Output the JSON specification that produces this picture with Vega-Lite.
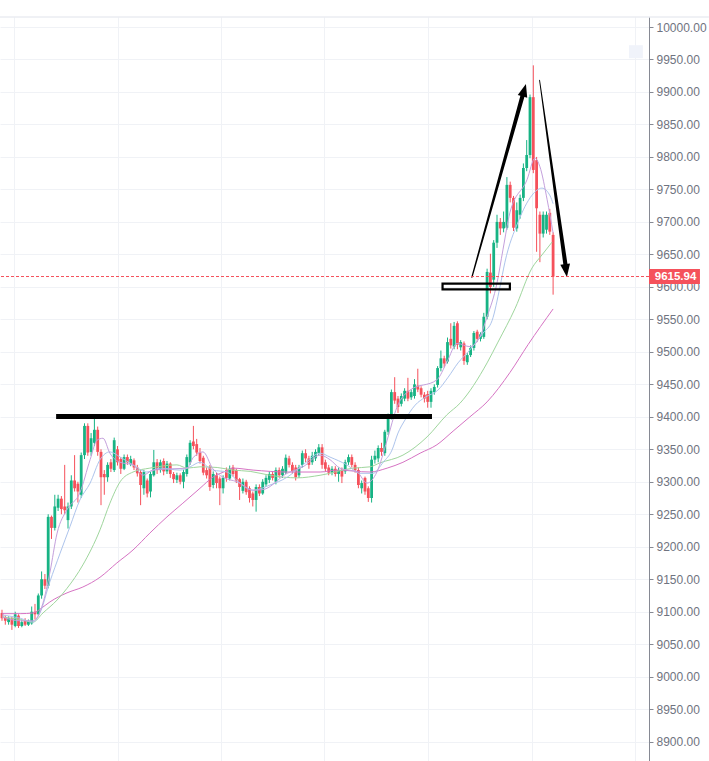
{
  "$schema": "https://vega.github.io/schema/vega-lite/v6.json",
  "width": 649,
  "height": 744,
  "autosize": {"type": "none"},
  "padding": {"top": 17, "left": 0, "right": 60, "bottom": 0},
  "background": "white",
  "config": {"view": {"stroke": null}, "axis": {"labelOverlap": false}},
  "datasets": {
    "candles": [
      {"i":0,"o":9098,"h":9103,"l":9086,"c":9090},
      {"i":1,"o":9092,"h":9095,"l":9080,"c":9086},
      {"i":2,"o":9084,"h":9093,"l":9080,"c":9090},
      {"i":3,"o":9090,"h":9092,"l":9072,"c":9080},
      {"i":4,"o":9078,"h":9100,"l":9076,"c":9096},
      {"i":5,"o":9094,"h":9096,"l":9075,"c":9078},
      {"i":6,"o":9078,"h":9088,"l":9076,"c":9084},
      {"i":7,"o":9086,"h":9090,"l":9078,"c":9080},
      {"i":8,"o":9080,"h":9088,"l":9078,"c":9086},
      {"i":9,"o":9082,"h":9108,"l":9080,"c":9100},
      {"i":10,"o":9100,"h":9112,"l":9088,"c":9096},
      {"i":11,"o":9096,"h":9128,"l":9094,"c":9125},
      {"i":12,"o":9125,"h":9162,"l":9120,"c":9150},
      {"i":13,"o":9150,"h":9158,"l":9135,"c":9140},
      {"i":14,"o":9140,"h":9250,"l":9136,"c":9246},
      {"i":15,"o":9246,"h":9248,"l":9212,"c":9229},
      {"i":16,"o":9229,"h":9280,"l":9225,"c":9262},
      {"i":17,"o":9260,"h":9280,"l":9255,"c":9274},
      {"i":18,"o":9274,"h":9278,"l":9250,"c":9258},
      {"i":19,"o":9262,"h":9326,"l":9250,"c":9256},
      {"i":20,"o":9241,"h":9268,"l":9228,"c":9262},
      {"i":21,"o":9262,"h":9310,"l":9258,"c":9302},
      {"i":22,"o":9302,"h":9341,"l":9285,"c":9290},
      {"i":23,"o":9297,"h":9300,"l":9268,"c":9285},
      {"i":24,"o":9280,"h":9345,"l":9275,"c":9341},
      {"i":25,"o":9341,"h":9390,"l":9335,"c":9386},
      {"i":26,"o":9386,"h":9390,"l":9340,"c":9345},
      {"i":27,"o":9346,"h":9375,"l":9340,"c":9367},
      {"i":28,"o":9360,"h":9398,"l":9355,"c":9380},
      {"i":29,"o":9380,"h":9385,"l":9340,"c":9346},
      {"i":30,"o":9346,"h":9350,"l":9264,"c":9307},
      {"i":31,"o":9312,"h":9318,"l":9280,"c":9307},
      {"i":32,"o":9307,"h":9330,"l":9300,"c":9326},
      {"i":33,"o":9330,"h":9335,"l":9315,"c":9320},
      {"i":34,"o":9318,"h":9368,"l":9315,"c":9364},
      {"i":35,"o":9350,"h":9355,"l":9325,"c":9330},
      {"i":36,"o":9335,"h":9338,"l":9312,"c":9320},
      {"i":37,"o":9320,"h":9342,"l":9318,"c":9338},
      {"i":38,"o":9338,"h":9342,"l":9326,"c":9330},
      {"i":39,"o":9327,"h":9340,"l":9324,"c":9335},
      {"i":40,"o":9333,"h":9336,"l":9318,"c":9322},
      {"i":41,"o":9322,"h":9326,"l":9308,"c":9313},
      {"i":42,"o":9315,"h":9318,"l":9264,"c":9295},
      {"i":43,"o":9290,"h":9318,"l":9280,"c":9315},
      {"i":44,"o":9302,"h":9305,"l":9276,"c":9282},
      {"i":45,"o":9285,"h":9315,"l":9276,"c":9312},
      {"i":46,"o":9310,"h":9349,"l":9308,"c":9330},
      {"i":47,"o":9330,"h":9335,"l":9312,"c":9318},
      {"i":48,"o":9318,"h":9334,"l":9314,"c":9330},
      {"i":49,"o":9332,"h":9336,"l":9310,"c":9316},
      {"i":50,"o":9316,"h":9332,"l":9312,"c":9328},
      {"i":51,"o":9328,"h":9330,"l":9306,"c":9312},
      {"i":52,"o":9312,"h":9315,"l":9298,"c":9304},
      {"i":53,"o":9303,"h":9314,"l":9298,"c":9310},
      {"i":54,"o":9310,"h":9313,"l":9296,"c":9300},
      {"i":55,"o":9300,"h":9318,"l":9290,"c":9315},
      {"i":56,"o":9312,"h":9342,"l":9308,"c":9338},
      {"i":57,"o":9330,"h":9364,"l":9326,"c":9360},
      {"i":58,"o":9362,"h":9386,"l":9350,"c":9355},
      {"i":59,"o":9358,"h":9366,"l":9340,"c":9345},
      {"i":60,"o":9345,"h":9352,"l":9328,"c":9332},
      {"i":61,"o":9337,"h":9340,"l":9310,"c":9314},
      {"i":62,"o":9318,"h":9322,"l":9305,"c":9310},
      {"i":63,"o":9323,"h":9326,"l":9286,"c":9292},
      {"i":64,"o":9295,"h":9316,"l":9290,"c":9312},
      {"i":65,"o":9310,"h":9314,"l":9290,"c":9298},
      {"i":66,"o":9305,"h":9308,"l":9264,"c":9290},
      {"i":67,"o":9290,"h":9310,"l":9282,"c":9306},
      {"i":68,"o":9318,"h":9322,"l":9300,"c":9306},
      {"i":69,"o":9305,"h":9325,"l":9302,"c":9320},
      {"i":70,"o":9322,"h":9326,"l":9308,"c":9312},
      {"i":71,"o":9318,"h":9320,"l":9298,"c":9302},
      {"i":72,"o":9304,"h":9306,"l":9272,"c":9292},
      {"i":73,"o":9286,"h":9305,"l":9282,"c":9300},
      {"i":74,"o":9300,"h":9303,"l":9280,"c":9284},
      {"i":75,"o":9290,"h":9293,"l":9268,"c":9275},
      {"i":76,"o":9282,"h":9285,"l":9262,"c":9272},
      {"i":77,"o":9272,"h":9296,"l":9254,"c":9292},
      {"i":78,"o":9292,"h":9296,"l":9278,"c":9282},
      {"i":79,"o":9282,"h":9304,"l":9280,"c":9300},
      {"i":80,"o":9296,"h":9310,"l":9292,"c":9306},
      {"i":81,"o":9303,"h":9316,"l":9298,"c":9312},
      {"i":82,"o":9312,"h":9316,"l":9302,"c":9306},
      {"i":83,"o":9300,"h":9322,"l":9296,"c":9318},
      {"i":84,"o":9318,"h":9322,"l":9306,"c":9310},
      {"i":85,"o":9310,"h":9324,"l":9306,"c":9320},
      {"i":86,"o":9314,"h":9342,"l":9312,"c":9337},
      {"i":87,"o":9336,"h":9340,"l":9322,"c":9326},
      {"i":88,"o":9326,"h":9330,"l":9312,"c":9316},
      {"i":89,"o":9322,"h":9326,"l":9302,"c":9307},
      {"i":90,"o":9310,"h":9326,"l":9306,"c":9322},
      {"i":91,"o":9326,"h":9348,"l":9322,"c":9344},
      {"i":92,"o":9344,"h":9350,"l":9330,"c":9336},
      {"i":93,"o":9336,"h":9340,"l":9320,"c":9326},
      {"i":94,"o":9330,"h":9346,"l":9326,"c":9340},
      {"i":95,"o":9336,"h":9350,"l":9332,"c":9346},
      {"i":96,"o":9344,"h":9358,"l":9340,"c":9353},
      {"i":97,"o":9353,"h":9358,"l":9320,"c":9326},
      {"i":98,"o":9330,"h":9334,"l":9316,"c":9320},
      {"i":99,"o":9322,"h":9326,"l":9310,"c":9314},
      {"i":100,"o":9314,"h":9324,"l":9310,"c":9320},
      {"i":101,"o":9320,"h":9324,"l":9308,"c":9312},
      {"i":102,"o":9312,"h":9322,"l":9300,"c":9318},
      {"i":103,"o":9318,"h":9322,"l":9298,"c":9308},
      {"i":104,"o":9316,"h":9334,"l":9312,"c":9330},
      {"i":105,"o":9330,"h":9342,"l":9326,"c":9338},
      {"i":106,"o":9338,"h":9342,"l":9322,"c":9326},
      {"i":107,"o":9326,"h":9330,"l":9314,"c":9318},
      {"i":108,"o":9318,"h":9322,"l":9290,"c":9295},
      {"i":109,"o":9290,"h":9302,"l":9282,"c":9298},
      {"i":110,"o":9306,"h":9308,"l":9280,"c":9285},
      {"i":111,"o":9290,"h":9293,"l":9269,"c":9275},
      {"i":112,"o":9275,"h":9340,"l":9268,"c":9334},
      {"i":113,"o":9334,"h":9348,"l":9328,"c":9340},
      {"i":114,"o":9336,"h":9356,"l":9330,"c":9352},
      {"i":115,"o":9352,"h":9360,"l":9340,"c":9346},
      {"i":116,"o":9344,"h":9380,"l":9340,"c":9377},
      {"i":117,"o":9377,"h":9405,"l":9372,"c":9400},
      {"i":118,"o":9400,"h":9442,"l":9396,"c":9438},
      {"i":119,"o":9438,"h":9461,"l":9420,"c":9425},
      {"i":120,"o":9428,"h":9432,"l":9406,"c":9415},
      {"i":121,"o":9420,"h":9436,"l":9416,"c":9432},
      {"i":122,"o":9428,"h":9444,"l":9424,"c":9440},
      {"i":123,"o":9440,"h":9460,"l":9424,"c":9428},
      {"i":124,"o":9430,"h":9442,"l":9426,"c":9438},
      {"i":125,"o":9432,"h":9458,"l":9428,"c":9450},
      {"i":126,"o":9448,"h":9474,"l":9438,"c":9442},
      {"i":127,"o":9444,"h":9447,"l":9430,"c":9434},
      {"i":128,"o":9434,"h":9438,"l":9422,"c":9428},
      {"i":129,"o":9435,"h":9440,"l":9414,"c":9423},
      {"i":130,"o":9423,"h":9444,"l":9414,"c":9440},
      {"i":131,"o":9438,"h":9450,"l":9434,"c":9446},
      {"i":132,"o":9449,"h":9478,"l":9445,"c":9475},
      {"i":133,"o":9475,"h":9502,"l":9470,"c":9490},
      {"i":134,"o":9490,"h":9494,"l":9476,"c":9482},
      {"i":135,"o":9485,"h":9522,"l":9482,"c":9515},
      {"i":136,"o":9520,"h":9544,"l":9505,"c":9510},
      {"i":137,"o":9508,"h":9546,"l":9504,"c":9540},
      {"i":138,"o":9544,"h":9547,"l":9504,"c":9511},
      {"i":139,"o":9507,"h":9518,"l":9502,"c":9515},
      {"i":140,"o":9513,"h":9516,"l":9480,"c":9486},
      {"i":141,"o":9484,"h":9498,"l":9480,"c":9495},
      {"i":142,"o":9495,"h":9510,"l":9492,"c":9506},
      {"i":143,"o":9506,"h":9532,"l":9502,"c":9529},
      {"i":144,"o":9531,"h":9534,"l":9515,"c":9520},
      {"i":145,"o":9520,"h":9530,"l":9516,"c":9527},
      {"i":146,"o":9523,"h":9560,"l":9520,"c":9554},
      {"i":147,"o":9554,"h":9628,"l":9550,"c":9623},
      {"i":148,"o":9622,"h":9651,"l":9590,"c":9600},
      {"i":149,"o":9611,"h":9672,"l":9600,"c":9668},
      {"i":150,"o":9668,"h":9711,"l":9660,"c":9700},
      {"i":151,"o":9700,"h":9706,"l":9680,"c":9690},
      {"i":152,"o":9690,"h":9716,"l":9684,"c":9700},
      {"i":153,"o":9691,"h":9769,"l":9688,"c":9757},
      {"i":154,"o":9757,"h":9762,"l":9730,"c":9737},
      {"i":155,"o":9737,"h":9740,"l":9686,"c":9691},
      {"i":156,"o":9690,"h":9730,"l":9685,"c":9718},
      {"i":157,"o":9711,"h":9742,"l":9705,"c":9737},
      {"i":158,"o":9737,"h":9790,"l":9732,"c":9783},
      {"i":159,"o":9783,"h":9826,"l":9778,"c":9803},
      {"i":160,"o":9803,"h":9896,"l":9798,"c":9892},
      {"i":161,"o":9892,"h":9941,"l":9775,"c":9780},
      {"i":162,"o":9795,"h":9800,"l":9654,"c":9721},
      {"i":163,"o":9711,"h":9716,"l":9638,"c":9682},
      {"i":164,"o":9682,"h":9716,"l":9676,"c":9711},
      {"i":165,"o":9688,"h":9716,"l":9682,"c":9711},
      {"i":166,"o":9714,"h":9720,"l":9680,"c":9685},
      {"i":167,"o":9680,"h":9684,"l":9588,"c":9615.94}
    ],
    "ma": [
      {"s":"m60","i":0,"v":9097},{"s":"m60","i":5.5,"v":9097},{"s":"m60","i":9.4,"v":9098},{"s":"m60","i":12.1,"v":9106},{"s":"m60","i":14.5,"v":9115},{"s":"m60","i":19.7,"v":9129},{"s":"m60","i":24.5,"v":9138},{"s":"m60","i":29.7,"v":9153},{"s":"m60","i":34.8,"v":9175},{"s":"m60","i":39.7,"v":9195},{"s":"m60","i":44.8,"v":9221},{"s":"m60","i":50,"v":9246},{"s":"m60","i":54.8,"v":9267},{"s":"m60","i":60,"v":9290},{"s":"m60","i":63.9,"v":9307},{"s":"m60","i":67.6,"v":9316},{"s":"m60","i":70,"v":9321},{"s":"m60","i":76.1,"v":9318},{"s":"m60","i":86.4,"v":9315},{"s":"m60","i":96.4,"v":9315},{"s":"m60","i":101.5,"v":9318},{"s":"m60","i":111.5,"v":9315},{"s":"m60","i":116.7,"v":9321},{"s":"m60","i":121.5,"v":9330},{"s":"m60","i":126.7,"v":9344},{"s":"m60","i":131.8,"v":9357},{"s":"m60","i":136.7,"v":9378},{"s":"m60","i":141.8,"v":9400},{"s":"m60","i":147,"v":9423},{"s":"m60","i":153.9,"v":9468},{"s":"m60","i":159.4,"v":9511},{"s":"m60","i":167,"v":9566},
      {"s":"m30","i":0,"v":9092},{"s":"m30","i":5.5,"v":9088},{"s":"m30","i":9.4,"v":9084},{"s":"m30","i":12.4,"v":9098},{"s":"m30","i":16.7,"v":9118},{"s":"m30","i":19.7,"v":9136},{"s":"m30","i":24.5,"v":9172},{"s":"m30","i":29.7,"v":9226},{"s":"m30","i":32.7,"v":9267},{"s":"m30","i":35.8,"v":9300},{"s":"m30","i":39.7,"v":9315},{"s":"m30","i":44.8,"v":9321},{"s":"m30","i":53,"v":9326},{"s":"m30","i":56.1,"v":9321},{"s":"m30","i":60,"v":9323},{"s":"m30","i":65.2,"v":9322},{"s":"m30","i":70,"v":9318},{"s":"m30","i":75.2,"v":9316},{"s":"m30","i":81.2,"v":9310},{"s":"m30","i":89.4,"v":9306},{"s":"m30","i":96.4,"v":9310},{"s":"m30","i":106.4,"v":9321},{"s":"m30","i":111.5,"v":9323},{"s":"m30","i":114.5,"v":9329},{"s":"m30","i":121.5,"v":9341},{"s":"m30","i":128.8,"v":9369},{"s":"m30","i":134.8,"v":9403},{"s":"m30","i":138.8,"v":9421},{"s":"m30","i":147,"v":9483},{"s":"m30","i":150.3,"v":9515},{"s":"m30","i":155.5,"v":9567},{"s":"m30","i":160.6,"v":9629},{"s":"m30","i":163.6,"v":9649},{"s":"m30","i":166.7,"v":9669},
      {"s":"m10","i":0,"v":9095},{"s":"m10","i":5.5,"v":9090},{"s":"m10","i":9.4,"v":9084},{"s":"m10","i":11.5,"v":9098},{"s":"m10","i":14.5,"v":9146},{"s":"m10","i":17.6,"v":9190},{"s":"m10","i":20.6,"v":9231},{"s":"m10","i":23.6,"v":9272},{"s":"m10","i":26.7,"v":9298},{"s":"m10","i":29.7,"v":9334},{"s":"m10","i":32.7,"v":9346},{"s":"m10","i":35.8,"v":9338},{"s":"m10","i":39.7,"v":9326},{"s":"m10","i":43.9,"v":9315},{"s":"m10","i":47.9,"v":9321},{"s":"m10","i":53.9,"v":9318},{"s":"m10","i":57,"v":9323},{"s":"m10","i":60,"v":9330},{"s":"m10","i":63.9,"v":9318},{"s":"m10","i":68.2,"v":9315},{"s":"m10","i":72.1,"v":9298},{"s":"m10","i":76.1,"v":9287},{"s":"m10","i":81.2,"v":9295},{"s":"m10","i":86.4,"v":9307},{"s":"m10","i":91.2,"v":9326},{"s":"m10","i":96.4,"v":9344},{"s":"m10","i":99.4,"v":9338},{"s":"m10","i":104.5,"v":9326},{"s":"m10","i":108.5,"v":9313},{"s":"m10","i":112.4,"v":9313},{"s":"m10","i":115.5,"v":9330},{"s":"m10","i":118.2,"v":9349},{"s":"m10","i":120,"v":9375},{"s":"m10","i":122.1,"v":9395},{"s":"m10","i":125.2,"v":9418},{"s":"m10","i":128.2,"v":9430},{"s":"m10","i":132.1,"v":9441},{"s":"m10","i":135.2,"v":9461},{"s":"m10","i":138.2,"v":9483},{"s":"m10","i":141.8,"v":9503},{"s":"m10","i":145.8,"v":9529},{"s":"m10","i":148.5,"v":9548},{"s":"m10","i":150.9,"v":9600},{"s":"m10","i":152.4,"v":9638},{"s":"m10","i":156.4,"v":9700},{"s":"m10","i":160.6,"v":9741},{"s":"m10","i":163.6,"v":9752},{"s":"m10","i":166.1,"v":9740},{"s":"m10","i":167,"v":9728},
      {"s":"m5","i":0,"v":9092},{"s":"m5","i":5.5,"v":9086},{"s":"m5","i":9.4,"v":9086},{"s":"m5","i":12.4,"v":9113},{"s":"m5","i":14.5,"v":9160},{"s":"m5","i":16.7,"v":9221},{"s":"m5","i":19.7,"v":9257},{"s":"m5","i":23.6,"v":9283},{"s":"m5","i":26.7,"v":9334},{"s":"m5","i":28.8,"v":9364},{"s":"m5","i":30.6,"v":9367},{"s":"m5","i":32.7,"v":9344},{"s":"m5","i":35.8,"v":9330},{"s":"m5","i":39.7,"v":9326},{"s":"m5","i":42.7,"v":9310},{"s":"m5","i":45.8,"v":9318},{"s":"m5","i":51.8,"v":9320},{"s":"m5","i":56.1,"v":9321},{"s":"m5","i":57.9,"v":9337},{"s":"m5","i":60.9,"v":9346},{"s":"m5","i":63.9,"v":9320},{"s":"m5","i":67,"v":9307},{"s":"m5","i":71.2,"v":9300},{"s":"m5","i":76.1,"v":9287},{"s":"m5","i":79.1,"v":9288},{"s":"m5","i":86.4,"v":9313},{"s":"m5","i":91.2,"v":9323},{"s":"m5","i":96.4,"v":9341},{"s":"m5","i":99.4,"v":9334},{"s":"m5","i":102.4,"v":9321},{"s":"m5","i":107.6,"v":9315},{"s":"m5","i":110.6,"v":9298},{"s":"m5","i":113.6,"v":9315},{"s":"m5","i":116.7,"v":9364},{"s":"m5","i":119.7,"v":9415},{"s":"m5","i":123.6,"v":9441},{"s":"m5","i":131.8,"v":9457},{"s":"m5","i":134.8,"v":9484},{"s":"m5","i":137.9,"v":9513},{"s":"m5","i":141.8,"v":9508},{"s":"m5","i":144.8,"v":9523},{"s":"m5","i":147,"v":9554},{"s":"m5","i":150,"v":9606},{"s":"m5","i":151.8,"v":9657},{"s":"m5","i":153.9,"v":9714},{"s":"m5","i":159.1,"v":9765},{"s":"m5","i":161.5,"v":9798},{"s":"m5","i":163,"v":9785},{"s":"m5","i":165.2,"v":9734},{"s":"m5","i":167,"v":9683}
    ],
    "arrows": [
      {"k":"up","i":142.4,"v":9615,"w":1.3},
      {"k":"up","i":157.9,"v":9897,"w":4.2},
      {"k":"down","i":162.9,"v":9918,"w":0.9},
      {"k":"down","i":170.8,"v":9632,"w":4.2}
    ],
    "heads": [
      {"i":158.2,"v":9902,"a":15.4,"shape":"M0,-1L-0.7,0.85L0.7,0.85Z"},
      {"i":170.9,"v":9626,"a":352.1,"shape":"M0,1L-0.7,-0.85L0.7,-0.85Z"}
    ]
  },
  "layer": [
    {
      "data": {"values": [{"a": -0.606, "b": 214.2, "p": 10015.4}]},
      "mark": {"type": "rule", "color": "#e0e3eb", "strokeWidth": 1},
      "encoding": {
        "x": {"field": "a", "type": "quantitative", "scale": {"domain": [-0.606, 196.06], "nice": false, "zero": false, "padding": 0},
              "axis": {"values": [3.64, 35, 66.4, 97.7, 129.1, 160.5, 191.8], "grid": true, "gridColor": "#f0f2f6", "labels": false, "ticks": false, "domain": false, "title": null}},
        "x2": {"field": "b"},
        "y": {"field": "p", "type": "quantitative", "scale": {"domain": [8870.2, 10015.4], "nice": false, "zero": false},
              "axis": {"orient": "right", "values": [8900,8950,9000,9050,9100,9150,9200,9250,9300,9350,9400,9450,9500,9550,9600,9650,9700,9750,9800,9850,9900,9950,10000], "format": ".2f", "grid": true, "gridColor": "#f0f2f6", "domainColor": "#868993", "tickColor": "#868993", "tickSize": 4, "labelPadding": 3, "labelColor": "#6f7380", "labelFont": "Liberation Sans", "labelFontSize": 12, "labelOverlap": false, "labelBound": false, "labelFlush": false, "title": null}}
      }
    },
    {
      "data": {"name": "candles"},
      "mark": {"type": "rule", "strokeWidth": 1},
      "encoding": {
        "x": {"field": "i", "type": "quantitative", "scale": {"domain": [-0.606, 196.06], "nice": false, "zero": false, "padding": 0},
              "axis": {"values": [3.64, 35, 66.4, 97.7, 129.1, 160.5, 191.8], "grid": true, "gridColor": "#f0f2f6", "labels": false, "ticks": false, "domain": false, "title": null}},
        "y": {"field": "l", "type": "quantitative", "scale": {"domain": [8870.2, 10015.4], "nice": false, "zero": false},
              "axis": {"orient": "right", "values": [8900,8950,9000,9050,9100,9150,9200,9250,9300,9350,9400,9450,9500,9550,9600,9650,9700,9750,9800,9850,9900,9950,10000], "format": ".2f", "grid": true, "gridColor": "#f0f2f6", "domainColor": "#868993", "tickColor": "#868993", "tickSize": 4, "labelPadding": 3, "labelColor": "#6f7380", "labelFont": "Liberation Sans", "labelFontSize": 12, "labelOverlap": false, "labelBound": false, "labelFlush": false, "title": null}},
        "y2": {"field": "h"},
        "color": {"condition": {"test": "datum.c >= datum.o", "value": "#17b384"}, "value": "#f5515b"}
      }
    },
    {
      "data": {"name": "candles"},
      "mark": {"type": "bar", "width": 2.8},
      "encoding": {
        "x": {"field": "i", "type": "quantitative", "scale": {"domain": [-0.606, 196.06], "nice": false, "zero": false, "padding": 0},
              "axis": {"values": [3.64, 35, 66.4, 97.7, 129.1, 160.5, 191.8], "grid": true, "gridColor": "#f0f2f6", "labels": false, "ticks": false, "domain": false, "title": null}},
        "y": {"field": "o", "type": "quantitative", "scale": {"domain": [8870.2, 10015.4], "nice": false, "zero": false},
              "axis": {"orient": "right", "values": [8900,8950,9000,9050,9100,9150,9200,9250,9300,9350,9400,9450,9500,9550,9600,9650,9700,9750,9800,9850,9900,9950,10000], "format": ".2f", "grid": true, "gridColor": "#f0f2f6", "domainColor": "#868993", "tickColor": "#868993", "tickSize": 4, "labelPadding": 3, "labelColor": "#6f7380", "labelFont": "Liberation Sans", "labelFontSize": 12, "labelOverlap": false, "labelBound": false, "labelFlush": false, "title": null}},
        "y2": {"field": "c"},
        "color": {"condition": {"test": "datum.c >= datum.o", "value": "#17b384"}, "value": "#f5515b"}
      }
    },
    {
      "data": {"values": [{"a": 190, "b": 194.2, "p1": 9952, "p2": 9972}]},
      "mark": {"type": "rect", "fill": "#f0f3fa"},
      "encoding": {
        "x": {"field": "a", "type": "quantitative", "scale": {"domain": [-0.606, 196.06], "nice": false, "zero": false, "padding": 0},
              "axis": {"values": [3.64, 35, 66.4, 97.7, 129.1, 160.5, 191.8], "grid": true, "gridColor": "#f0f2f6", "labels": false, "ticks": false, "domain": false, "title": null}},
        "x2": {"field": "b"},
        "y": {"field": "p1", "type": "quantitative", "scale": {"domain": [8870.2, 10015.4], "nice": false, "zero": false},
              "axis": {"orient": "right", "values": [8900,8950,9000,9050,9100,9150,9200,9250,9300,9350,9400,9450,9500,9550,9600,9650,9700,9750,9800,9850,9900,9950,10000], "format": ".2f", "grid": true, "gridColor": "#f0f2f6", "domainColor": "#868993", "tickColor": "#868993", "tickSize": 4, "labelPadding": 3, "labelColor": "#6f7380", "labelFont": "Liberation Sans", "labelFontSize": 12, "labelOverlap": false, "labelBound": false, "labelFlush": false, "title": null}},
        "y2": {"field": "p2"}
      }
    },
    {
      "data": {"name": "ma"},
      "mark": {"type": "line", "strokeWidth": 1, "interpolate": "monotone"},
      "encoding": {
        "x": {"field": "i", "type": "quantitative", "scale": {"domain": [-0.606, 196.06], "nice": false, "zero": false, "padding": 0},
              "axis": {"values": [3.64, 35, 66.4, 97.7, 129.1, 160.5, 191.8], "grid": true, "gridColor": "#f0f2f6", "labels": false, "ticks": false, "domain": false, "title": null}},
        "y": {"field": "v", "type": "quantitative", "scale": {"domain": [8870.2, 10015.4], "nice": false, "zero": false},
              "axis": {"orient": "right", "values": [8900,8950,9000,9050,9100,9150,9200,9250,9300,9350,9400,9450,9500,9550,9600,9650,9700,9750,9800,9850,9900,9950,10000], "format": ".2f", "grid": true, "gridColor": "#f0f2f6", "domainColor": "#868993", "tickColor": "#868993", "tickSize": 4, "labelPadding": 3, "labelColor": "#6f7380", "labelFont": "Liberation Sans", "labelFontSize": 12, "labelOverlap": false, "labelBound": false, "labelFlush": false, "title": null}},
        "color": {"field": "s", "type": "nominal", "scale": {"domain": ["m60", "m30", "m10", "m5"], "range": ["#d673c3", "#9fd69d", "#adc4ec", "#c4a0dc"]}, "legend": null}
      }
    },
    {
      "data": {"values": [{"a": 16.4, "b": 130.3, "p": 9400.5}]},
      "mark": {"type": "rule", "color": "black", "strokeWidth": 5, "strokeCap": "butt"},
      "encoding": {
        "x": {"field": "a", "type": "quantitative", "scale": {"domain": [-0.606, 196.06], "nice": false, "zero": false, "padding": 0},
              "axis": {"values": [3.64, 35, 66.4, 97.7, 129.1, 160.5, 191.8], "grid": true, "gridColor": "#f0f2f6", "labels": false, "ticks": false, "domain": false, "title": null}},
        "x2": {"field": "b"},
        "y": {"field": "p", "type": "quantitative", "scale": {"domain": [8870.2, 10015.4], "nice": false, "zero": false},
              "axis": {"orient": "right", "values": [8900,8950,9000,9050,9100,9150,9200,9250,9300,9350,9400,9450,9500,9550,9600,9650,9700,9750,9800,9850,9900,9950,10000], "format": ".2f", "grid": true, "gridColor": "#f0f2f6", "domainColor": "#868993", "tickColor": "#868993", "tickSize": 4, "labelPadding": 3, "labelColor": "#6f7380", "labelFont": "Liberation Sans", "labelFontSize": 12, "labelOverlap": false, "labelBound": false, "labelFlush": false, "title": null}}
      }
    },
    {
      "data": {"values": [{"a": 133.5, "b": 153.9, "p1": 9596, "p2": 9605}]},
      "mark": {"type": "rect", "fill": "white", "fillOpacity": 0, "stroke": "black", "strokeWidth": 2.2},
      "encoding": {
        "x": {"field": "a", "type": "quantitative", "scale": {"domain": [-0.606, 196.06], "nice": false, "zero": false, "padding": 0},
              "axis": {"values": [3.64, 35, 66.4, 97.7, 129.1, 160.5, 191.8], "grid": true, "gridColor": "#f0f2f6", "labels": false, "ticks": false, "domain": false, "title": null}},
        "x2": {"field": "b"},
        "y": {"field": "p1", "type": "quantitative", "scale": {"domain": [8870.2, 10015.4], "nice": false, "zero": false},
              "axis": {"orient": "right", "values": [8900,8950,9000,9050,9100,9150,9200,9250,9300,9350,9400,9450,9500,9550,9600,9650,9700,9750,9800,9850,9900,9950,10000], "format": ".2f", "grid": true, "gridColor": "#f0f2f6", "domainColor": "#868993", "tickColor": "#868993", "tickSize": 4, "labelPadding": 3, "labelColor": "#6f7380", "labelFont": "Liberation Sans", "labelFontSize": 12, "labelOverlap": false, "labelBound": false, "labelFlush": false, "title": null}},
        "y2": {"field": "p2"}
      }
    },
    {
      "data": {"name": "arrows"},
      "mark": {"type": "trail", "color": "black"},
      "encoding": {
        "x": {"field": "i", "type": "quantitative", "scale": {"domain": [-0.606, 196.06], "nice": false, "zero": false, "padding": 0},
              "axis": {"values": [3.64, 35, 66.4, 97.7, 129.1, 160.5, 191.8], "grid": true, "gridColor": "#f0f2f6", "labels": false, "ticks": false, "domain": false, "title": null}},
        "y": {"field": "v", "type": "quantitative", "scale": {"domain": [8870.2, 10015.4], "nice": false, "zero": false},
              "axis": {"orient": "right", "values": [8900,8950,9000,9050,9100,9150,9200,9250,9300,9350,9400,9450,9500,9550,9600,9650,9700,9750,9800,9850,9900,9950,10000], "format": ".2f", "grid": true, "gridColor": "#f0f2f6", "domainColor": "#868993", "tickColor": "#868993", "tickSize": 4, "labelPadding": 3, "labelColor": "#6f7380", "labelFont": "Liberation Sans", "labelFontSize": 12, "labelOverlap": false, "labelBound": false, "labelFlush": false, "title": null}},
        "size": {"field": "w", "type": "quantitative", "scale": null, "legend": null},
        "detail": {"field": "k", "type": "nominal"}
      }
    },
    {
      "data": {"name": "heads"},
      "mark": {"type": "point", "filled": true, "color": "black", "opacity": 1, "size": 196},
      "encoding": {
        "x": {"field": "i", "type": "quantitative", "scale": {"domain": [-0.606, 196.06], "nice": false, "zero": false, "padding": 0},
              "axis": {"values": [3.64, 35, 66.4, 97.7, 129.1, 160.5, 191.8], "grid": true, "gridColor": "#f0f2f6", "labels": false, "ticks": false, "domain": false, "title": null}},
        "y": {"field": "v", "type": "quantitative", "scale": {"domain": [8870.2, 10015.4], "nice": false, "zero": false},
              "axis": {"orient": "right", "values": [8900,8950,9000,9050,9100,9150,9200,9250,9300,9350,9400,9450,9500,9550,9600,9650,9700,9750,9800,9850,9900,9950,10000], "format": ".2f", "grid": true, "gridColor": "#f0f2f6", "domainColor": "#868993", "tickColor": "#868993", "tickSize": 4, "labelPadding": 3, "labelColor": "#6f7380", "labelFont": "Liberation Sans", "labelFontSize": 12, "labelOverlap": false, "labelBound": false, "labelFlush": false, "title": null}},
        "shape": {"field": "shape", "type": "nominal", "scale": null, "legend": null},
        "angle": {"field": "a", "type": "quantitative", "scale": null, "legend": null}
      }
    },
    {
      "data": {"values": [{"p": 9615.94}]},
      "mark": {"type": "rule", "color": "#f5515b", "strokeWidth": 1, "strokeDash": [3, 2]},
      "encoding": {
        "y": {"field": "p", "type": "quantitative", "scale": {"domain": [8870.2, 10015.4], "nice": false, "zero": false},
              "axis": {"orient": "right", "values": [8900,8950,9000,9050,9100,9150,9200,9250,9300,9350,9400,9450,9500,9550,9600,9650,9700,9750,9800,9850,9900,9950,10000], "format": ".2f", "grid": true, "gridColor": "#f0f2f6", "domainColor": "#868993", "tickColor": "#868993", "tickSize": 4, "labelPadding": 3, "labelColor": "#6f7380", "labelFont": "Liberation Sans", "labelFontSize": 12, "labelOverlap": false, "labelBound": false, "labelFlush": false, "title": null}}
      }
    },
    {
      "data": {"values": [{"a": 196.06, "b": 211.5, "p1": 9604.3, "p2": 9627.6}]},
      "mark": {"type": "rect", "fill": "#f5515b"},
      "encoding": {
        "x": {"field": "a", "type": "quantitative", "scale": {"domain": [-0.606, 196.06], "nice": false, "zero": false, "padding": 0},
              "axis": {"values": [3.64, 35, 66.4, 97.7, 129.1, 160.5, 191.8], "grid": true, "gridColor": "#f0f2f6", "labels": false, "ticks": false, "domain": false, "title": null}},
        "x2": {"field": "b"},
        "y": {"field": "p1", "type": "quantitative", "scale": {"domain": [8870.2, 10015.4], "nice": false, "zero": false},
              "axis": {"orient": "right", "values": [8900,8950,9000,9050,9100,9150,9200,9250,9300,9350,9400,9450,9500,9550,9600,9650,9700,9750,9800,9850,9900,9950,10000], "format": ".2f", "grid": true, "gridColor": "#f0f2f6", "domainColor": "#868993", "tickColor": "#868993", "tickSize": 4, "labelPadding": 3, "labelColor": "#6f7380", "labelFont": "Liberation Sans", "labelFontSize": 12, "labelOverlap": false, "labelBound": false, "labelFlush": false, "title": null}},
        "y2": {"field": "p2"}
      }
    },
    {
      "data": {"values": [{"a": 204.1, "p": 9615.94, "label": "9615.94"}]},
      "mark": {"type": "text", "color": "white", "font": "Liberation Sans", "fontSize": 11.5, "fontWeight": "bold", "align": "center", "baseline": "middle", "dy": 0.5},
      "encoding": {
        "x": {"field": "a", "type": "quantitative", "scale": {"domain": [-0.606, 196.06], "nice": false, "zero": false, "padding": 0},
              "axis": {"values": [3.64, 35, 66.4, 97.7, 129.1, 160.5, 191.8], "grid": true, "gridColor": "#f0f2f6", "labels": false, "ticks": false, "domain": false, "title": null}},
        "y": {"field": "p", "type": "quantitative", "scale": {"domain": [8870.2, 10015.4], "nice": false, "zero": false},
              "axis": {"orient": "right", "values": [8900,8950,9000,9050,9100,9150,9200,9250,9300,9350,9400,9450,9500,9550,9600,9650,9700,9750,9800,9850,9900,9950,10000], "format": ".2f", "grid": true, "gridColor": "#f0f2f6", "domainColor": "#868993", "tickColor": "#868993", "tickSize": 4, "labelPadding": 3, "labelColor": "#6f7380", "labelFont": "Liberation Sans", "labelFontSize": 12, "labelOverlap": false, "labelBound": false, "labelFlush": false, "title": null}},
        "text": {"field": "label"}
      }
    }
  ]
}
